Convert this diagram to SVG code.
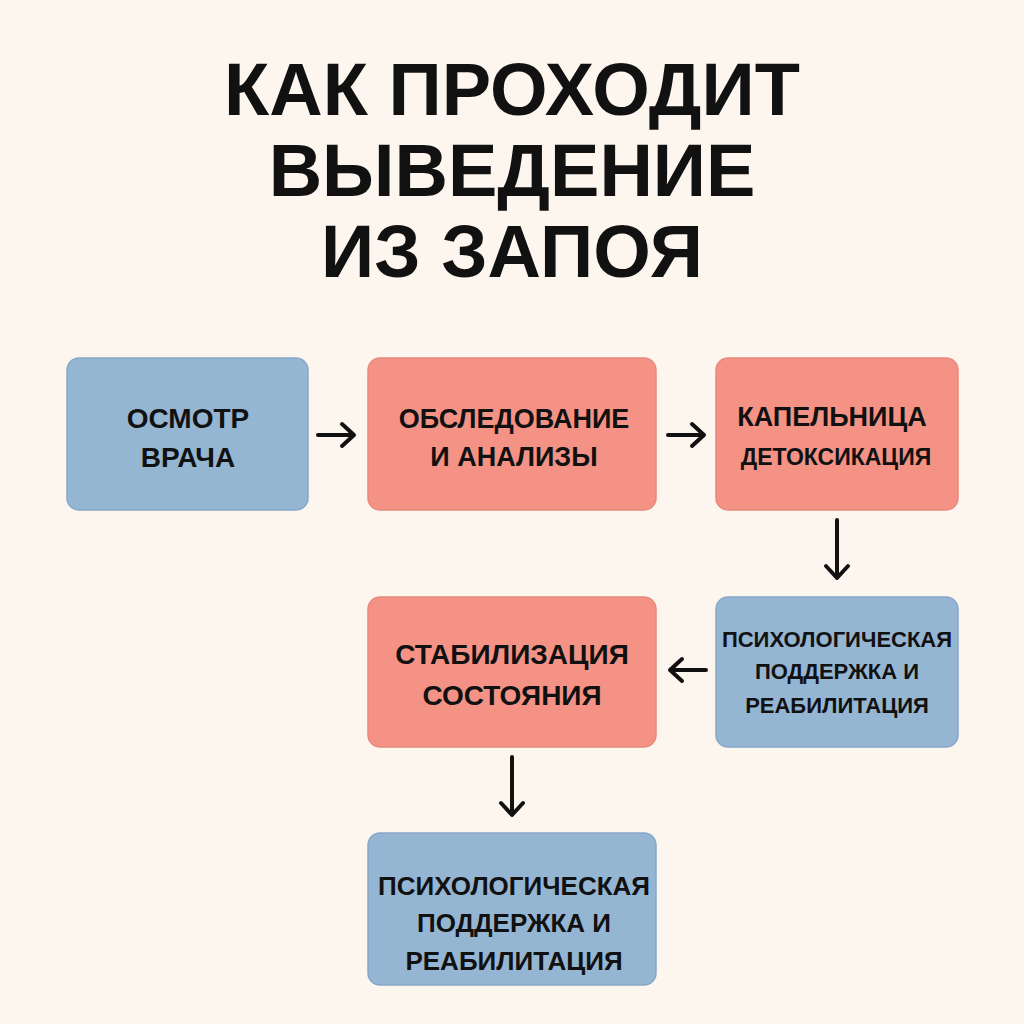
<svg xmlns="http://www.w3.org/2000/svg" width="1024" height="1024" viewBox="0 0 1024 1024">
<style>
.t{font-family:"Liberation Sans","DejaVu Sans",sans-serif;font-weight:bold;fill:#111;text-anchor:middle}
.blue{fill:#95b6d3;stroke:#86a8c8;stroke-width:1.5}
.red{fill:#f49385;stroke:#e8897c;stroke-width:1.5}
.a{stroke:#111;stroke-width:4;fill:none;stroke-linecap:round;stroke-linejoin:round}
</style>
<rect width="1024" height="1024" fill="#fdf6ef"/>
<g id="title" class="t" font-size="74">
<text x="512" y="115">КАК ПРОХОДИТ</text>
<text x="512" y="196">ВЫВЕДЕНИЕ</text>
<text x="512" y="277">ИЗ ЗАПОЯ</text>
</g>
<g id="n1"><rect class="blue" x="67" y="358" width="241" height="152" rx="12"/>
<text class="t" font-size="28" x="188" y="428">ОСМОТР</text><text class="t" font-size="28" x="188" y="467">ВРАЧА</text></g>
<g id="n2"><rect class="red" x="368" y="358" width="288" height="152" rx="12"/>
<text class="t" font-size="27" x="514" y="428">ОБСЛЕДОВАНИЕ</text><text class="t" font-size="27" x="514" y="466">И АНАЛИЗЫ</text></g>
<g id="n3"><rect class="red" x="716" y="358" width="242" height="152" rx="12"/>
<text class="t" font-size="27" x="832" y="426">КАПЕЛЬНИЦА</text><text class="t" font-size="23" x="836" y="465">ДЕТОКСИКАЦИЯ</text></g>
<g id="n4"><rect class="blue" x="716" y="597" width="242" height="150" rx="12"/>
<text class="t" font-size="22" x="837" y="647">ПСИХОЛОГИЧЕСКАЯ</text><text class="t" font-size="22" x="837" y="679">ПОДДЕРЖКА И</text><text class="t" font-size="22" x="837" y="713">РЕАБИЛИТАЦИЯ</text></g>
<g id="n5"><rect class="red" x="368" y="597" width="288" height="150" rx="12"/>
<text class="t" font-size="28" x="512" y="664">СТАБИЛИЗАЦИЯ</text><text class="t" font-size="28" x="512" y="705">СОСТОЯНИЯ</text></g>
<g id="n6"><rect class="blue" x="368" y="833" width="288" height="152" rx="12"/>
<text class="t" font-size="26" x="514" y="895">ПСИХОЛОГИЧЕСКАЯ</text><text class="t" font-size="26" x="514" y="932">ПОДДЕРЖКА И</text><text class="t" font-size="26" x="514" y="970">РЕАБИЛИТАЦИЯ</text></g>
<g id="connectors">
<path class="a" d="M318 435H354M342 424L354 435L342 446"/>
<path class="a" d="M668 435H704M692 424L704 435L692 446"/>
<path class="a" d="M837 520V578M826 566L837 578L848 566"/>
<path class="a" d="M706 670H670M682 659L670 670L682 681"/>
<path class="a" d="M512 757V815M501 803L512 815L523 803"/>
</g>
</svg>
